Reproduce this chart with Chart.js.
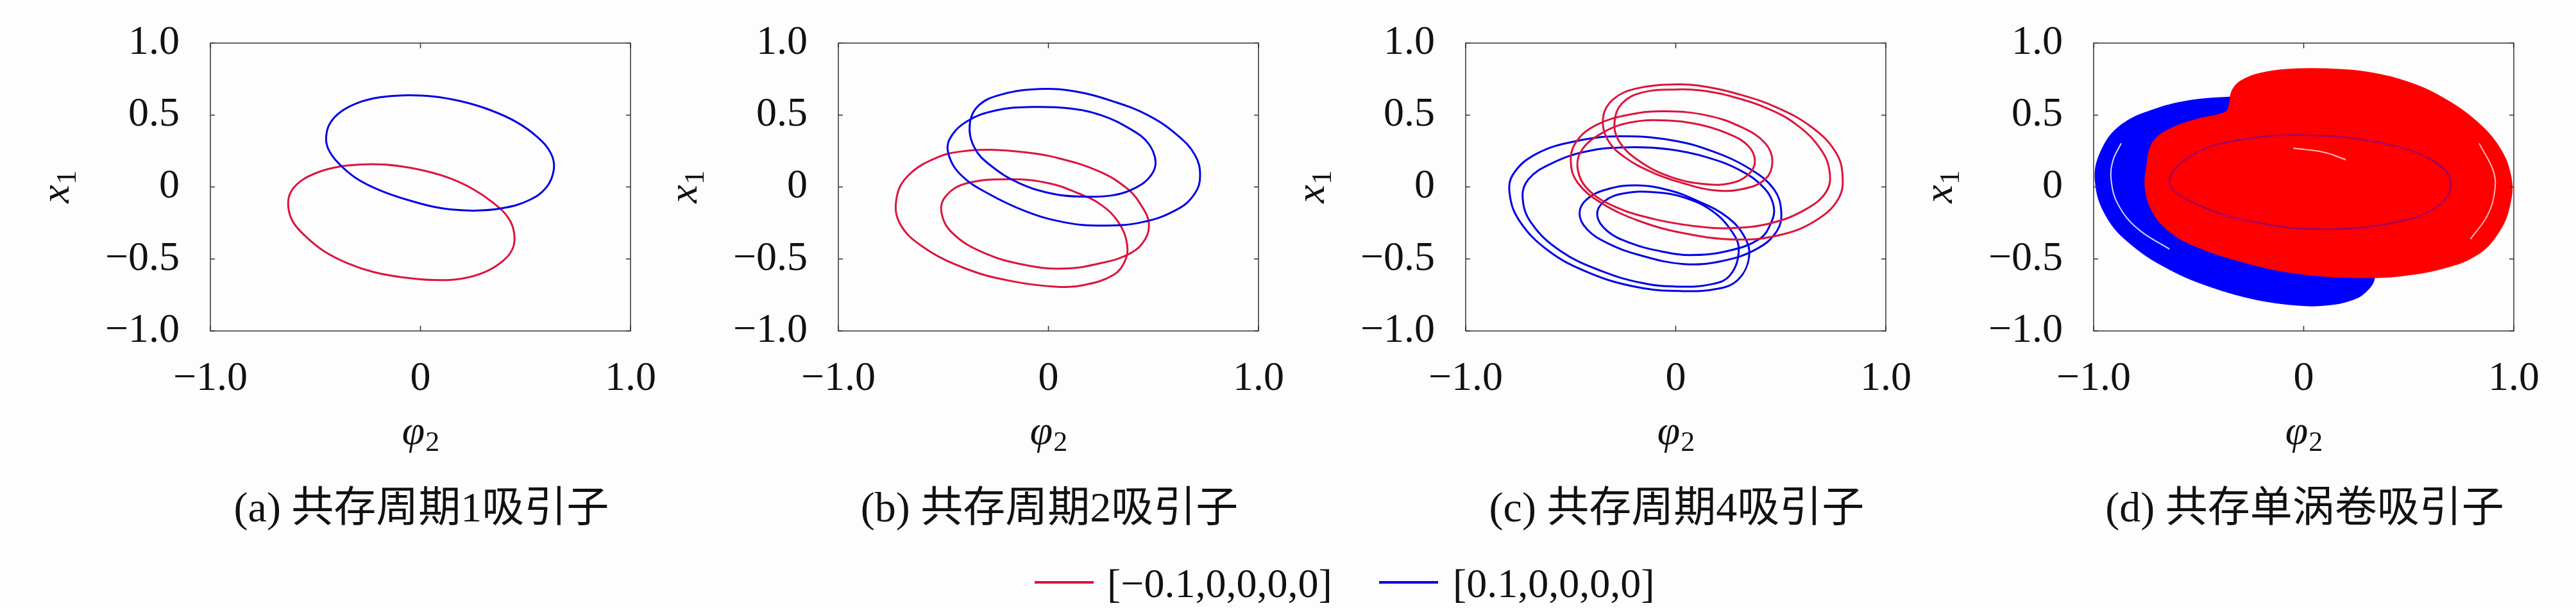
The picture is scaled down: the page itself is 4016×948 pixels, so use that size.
<!DOCTYPE html>
<html>
<head>
<meta charset="utf-8">
<script src="https://cdn.jsdelivr.net/npm/chart.js@4.4.1/dist/chart.umd.min.js"></script>
<style>
  body { margin: 0; background: #fdfdfd; }
  #fig { position: relative; width: 4016px; height: 948px; overflow: hidden; background: #fdfdfd; }
  #fig canvas { position: absolute; top: 0; }
  .cap { position: absolute; top: 758px; width: 1000px; text-align: center; white-space: nowrap;
         font: 66px/66px "Liberation Serif", "Noto Sans CJK SC", serif; color: #111; }
  .leg { position: absolute; top: 877px; white-space: nowrap; font: 64px/66px "Liberation Serif", serif; color: #111; }
  .sw { position: absolute; top: 906px; height: 4px; }
</style>
</head>
<body>
<div id="fig"></div>
<script>
// axis ticks
const xTicks = [-1, 0, 1];
const xTickLabels = ['\u22121.0', '0', '1.0'];
const yTicks = [-1, -0.5, 0, 0.5, 1];
const yTickLabels = ['\u22121.0', '\u22120.5', '0', '0.5', '1.0'];

const captions = ['(a) 共存周期1吸引子', '(b) 共存周期2吸引子', '(c) 共存周期4吸引子', '(d) 共存单涡卷吸引子'];
const legendLabels = ['[\u22120.1,0,0,0,0]', '[0.1,0,0,0,0]'];

// (a) period 1, [phi2, x1] pairs
const aBlue = [[-0.083,0.637],[0.056,0.630],[0.195,0.595],[0.335,0.533],[0.460,0.449],[0.558,0.345],[0.621,0.234],[0.635,0.123],[0.600,-0.001],[0.516,-0.092],[0.391,-0.147],[0.252,-0.164],[0.098,-0.147],[-0.055,-0.092],[-0.194,-0.022],[-0.306,0.061],[-0.390,0.165],[-0.438,0.262],[-0.449,0.345],[-0.431,0.442],[-0.376,0.526],[-0.292,0.588],[-0.195,0.623]];
const aRed = [[-0.250,0.158],[-0.111,0.148],[0.029,0.110],[0.140,0.061],[0.251,-0.015],[0.348,-0.112],[0.419,-0.216],[0.446,-0.320],[0.440,-0.424],[0.391,-0.515],[0.307,-0.591],[0.196,-0.637],[0.056,-0.646],[-0.083,-0.628],[-0.222,-0.591],[-0.348,-0.529],[-0.460,-0.445],[-0.543,-0.348],[-0.606,-0.244],[-0.629,-0.140],[-0.620,-0.043],[-0.571,0.040],[-0.487,0.103],[-0.376,0.144]];

// (b) period 2
const bBlue = [[-0.040,0.681],[-0.221,0.644],[-0.332,0.567],[-0.374,0.442],[-0.353,0.276],[-0.276,0.151],[-0.137,0.026],[0.030,-0.050],[0.169,-0.067],[0.308,-0.057],[0.420,-0.001],[0.489,0.082],[0.510,0.179],[0.475,0.304],[0.392,0.401],[0.253,0.498],[0.100,0.546],[-0.081,0.556],[-0.248,0.533],[-0.388,0.456],[-0.471,0.331],[-0.474,0.220],[-0.415,0.082],[-0.290,-0.043],[-0.109,-0.168],[0.072,-0.244],[0.253,-0.268],[0.447,-0.244],[0.615,-0.154],[0.698,-0.043],[0.722,0.082],[0.698,0.221],[0.615,0.359],[0.475,0.498],[0.308,0.595],[0.127,0.664]];
const bRed = [[-0.276,0.259],[-0.109,0.241],[0.030,0.207],[0.239,0.110],[0.378,-0.015],[0.447,-0.140],[0.478,-0.251],[0.461,-0.362],[0.392,-0.459],[0.253,-0.528],[0.072,-0.567],[-0.109,-0.542],[-0.304,-0.459],[-0.457,-0.320],[-0.510,-0.168],[-0.485,-0.057],[-0.388,0.026],[-0.179,0.054],[0.002,0.026],[0.141,-0.043],[0.253,-0.126],[0.336,-0.251],[0.375,-0.404],[0.364,-0.515],[0.308,-0.612],[0.169,-0.681],[0.030,-0.692],[-0.179,-0.653],[-0.388,-0.570],[-0.596,-0.417],[-0.708,-0.251],[-0.722,-0.071],[-0.666,0.082],[-0.527,0.207],[-0.400,0.250]];

// (c) period 4, two double loops per colour
const cRed1 = [[0.008,0.713],[-0.186,0.685],[-0.298,0.609],[-0.346,0.484],[-0.325,0.331],[-0.242,0.206],[-0.103,0.096],[0.036,0.026],[0.175,-0.022],[0.314,-0.015],[0.426,0.054],[0.460,0.179],[0.426,0.304],[0.314,0.415],[0.147,0.498],[-0.047,0.526],[-0.214,0.505],[-0.381,0.429],[-0.478,0.304],[-0.499,0.165],[-0.465,0.026],[-0.353,-0.112],[-0.172,-0.237],[0.036,-0.320],[0.287,-0.365],[0.495,-0.334],[0.662,-0.237],[0.773,-0.085],[0.794,0.082],[0.759,0.248],[0.648,0.415],[0.481,0.553],[0.287,0.650],[0.134,0.699]];
const cRed2 = [[0.008,0.678],[-0.159,0.657],[-0.256,0.581],[-0.291,0.457],[-0.270,0.318],[-0.172,0.179],[-0.019,0.068],[0.147,0.019],[0.259,0.026],[0.342,0.082],[0.377,0.179],[0.342,0.290],[0.245,0.373],[0.106,0.436],[-0.047,0.463],[-0.214,0.449],[-0.353,0.373],[-0.451,0.248],[-0.465,0.110],[-0.409,-0.029],[-0.284,-0.140],[-0.103,-0.223],[0.092,-0.272],[0.259,-0.286],[0.453,-0.251],[0.620,-0.154],[0.718,-0.029],[0.732,0.110],[0.690,0.262],[0.579,0.429],[0.426,0.553],[0.245,0.637],[0.120,0.671]];
const cBlue1 = [[0.022,-0.723],[0.203,-0.706],[0.300,-0.639],[0.349,-0.487],[0.328,-0.348],[0.245,-0.209],[0.106,-0.098],[-0.033,-0.022],[-0.186,0.012],[-0.325,-0.015],[-0.423,-0.085],[-0.458,-0.182],[-0.423,-0.293],[-0.325,-0.390],[-0.172,-0.473],[0.036,-0.535],[0.217,-0.515],[0.384,-0.431],[0.481,-0.307],[0.502,-0.168],[0.467,-0.015],[0.356,0.123],[0.175,0.248],[-0.019,0.325],[-0.270,0.352],[-0.478,0.318],[-0.659,0.234],[-0.771,0.096],[-0.791,-0.043],[-0.743,-0.237],[-0.604,-0.445],[-0.409,-0.598],[-0.186,-0.695]];
const cBlue2 = [[0.008,-0.692],[0.175,-0.674],[0.259,-0.612],[0.300,-0.445],[0.272,-0.320],[0.175,-0.168],[0.036,-0.071],[-0.103,-0.036],[-0.242,-0.043],[-0.339,-0.098],[-0.374,-0.196],[-0.325,-0.307],[-0.214,-0.390],[-0.075,-0.445],[0.064,-0.473],[0.245,-0.445],[0.398,-0.362],[0.453,-0.251],[0.467,-0.140],[0.426,-0.015],[0.314,0.110],[0.147,0.207],[-0.033,0.262],[-0.228,0.276],[-0.423,0.248],[-0.590,0.165],[-0.701,0.054],[-0.729,-0.071],[-0.687,-0.251],[-0.548,-0.445],[-0.353,-0.584],[-0.159,-0.667]];

// (d) single-scroll attractors: outer boundaries and a few visible inner strands
const dBlue = [[-0.991,0.040],[-0.964,0.248],[-0.869,0.429],[-0.707,0.540],[-0.531,0.602],[-0.355,0.623],[-0.098,0.623],[0.240,0.526],[0.375,0.248],[0.375,-0.168],[0.335,-0.639],[0.307,-0.709],[0.240,-0.778],[0.105,-0.820],[-0.030,-0.820],[-0.233,-0.778],[-0.436,-0.695],[-0.639,-0.570],[-0.815,-0.404],[-0.936,-0.209]];
const dRed = [[-0.071,0.817],[-0.206,0.789],[-0.301,0.734],[-0.342,0.664],[-0.352,0.580],[-0.370,0.520],[-0.504,0.471],[-0.639,0.401],[-0.720,0.304],[-0.747,0.137],[-0.754,-0.001],[-0.720,-0.168],[-0.639,-0.307],[-0.504,-0.417],[-0.301,-0.515],[-0.098,-0.584],[0.105,-0.619],[0.307,-0.628],[0.443,-0.619],[0.646,-0.570],[0.821,-0.473],[0.930,-0.307],[0.984,-0.098],[0.984,0.082],[0.930,0.276],[0.821,0.456],[0.673,0.609],[0.511,0.720],[0.307,0.796],[0.105,0.820]];
const dBlueStripe = [[-0.869,0.304],[-0.909,0.179],[-0.916,0.040],[-0.882,-0.126],[-0.788,-0.293],[-0.639,-0.431]];
const dRedStripe = [[0.835,0.304],[0.903,0.110],[0.909,-0.029],[0.875,-0.196],[0.794,-0.362]];
const dRing = [[-0.639,0.026],[-0.531,0.221],[-0.288,0.331],[0.037,0.359],[0.375,0.304],[0.619,0.179],[0.700,0.026],[0.632,-0.140],[0.416,-0.251],[0.105,-0.293],[-0.206,-0.251],[-0.477,-0.140]];
const dStreak = [[-0.050,0.270],[0.100,0.240],[0.200,0.190]];

const RED = '#dc143c';
const BLUE = '#0000e6';
const panelLeft = [0, 979, 1957, 2936];

function pts(list) {
  return list.map(p => ({ x: p[0], y: p[1] }));
}
function lineSet(list, color, order, width, closed = true) {
  return { data: pts(list), closed: closed, showLine: true, borderColor: color, borderWidth: width || 3,
           pointRadius: 0, tension: 0.4, fill: false, order: order };
}
function areaSet(list, color, order) {
  return { data: pts(list), closed: true, showLine: true, borderColor: color, backgroundColor: color, borderWidth: 2,
           pointRadius: 0, tension: 0.4, fill: 'shape', order: order };
}

const panels = [
  [lineSet(aBlue, BLUE, 0), lineSet(aRed, RED, 1)],
  [lineSet(bBlue, BLUE, 0), lineSet(bRed, RED, 1)],
  [lineSet(cRed1, RED, 0), lineSet(cRed2, RED, 0), lineSet(cBlue1, BLUE, 1), lineSet(cBlue2, BLUE, 1)],
  [lineSet(dBlueStripe, 'rgba(255,255,255,0.85)', 0, 2, false),
   lineSet(dRedStripe, 'rgba(255,225,225,0.8)', 0, 2, false),
   lineSet(dRing, 'rgba(70,0,190,0.5)', 0, 2.5),
   lineSet(dStreak, 'rgba(255,235,235,0.8)', 0, 2, false),
   areaSet(dRed, '#ff0000', 1), areaSet(dBlue, '#0000ff', 2)]
];

// orbits are closed curves: let the line element join the last point back to the first smoothly
// (same flags the radar controller sets on its line)
const closeLoops = {
  id: 'closeLoops',
  afterDatasetUpdate(chart, args) {
    const ds = chart.data.datasets[args.index];
    const line = args.meta.dataset;
    if (ds.closed && line) {
      line._loop = true;
      line._fullLoop = true;
      line._pointsUpdated = false;
      line._segments = undefined;
      line._path = undefined;
    }
  }
};

// frame with inward ticks, plus the two axis titles with subscripts
const framePlugin = {
  id: 'frame',
  afterDatasetsDraw(chart) {
    const { ctx, chartArea: a, scales: { x, y } } = chart;
    ctx.save();
    ctx.strokeStyle = '#333';
    ctx.lineWidth = 1.5;
    ctx.strokeRect(a.left, a.top, a.right - a.left, a.bottom - a.top);
    ctx.beginPath();
    xTicks.forEach(v => {
      const px = x.getPixelForValue(v);
      ctx.moveTo(px, a.bottom); ctx.lineTo(px, a.bottom - 8);
      ctx.moveTo(px, a.top); ctx.lineTo(px, a.top + 8);
    });
    yTicks.forEach(v => {
      const py = y.getPixelForValue(v);
      ctx.moveTo(a.left, py); ctx.lineTo(a.left + 7, py);
      ctx.moveTo(a.right, py); ctx.lineTo(a.right - 7, py);
    });
    ctx.stroke();
    ctx.restore();
  },
  afterDraw(chart) {
    const { ctx, chartArea: a } = chart;
    const main = 'italic 64px "Liberation Serif"';
    const sub = '44px "Liberation Serif"';
    const drawSub = (m, s, cx, cy, rot) => {
      ctx.save();
      ctx.translate(cx, cy);
      ctx.rotate(rot);
      ctx.fillStyle = '#111';
      ctx.textBaseline = 'alphabetic';
      ctx.font = main; const w1 = ctx.measureText(m).width;
      ctx.font = sub; const w2 = ctx.measureText(s).width;
      const x0 = -(w1 + w2) / 2;
      ctx.font = main; ctx.fillText(m, x0, 0);
      ctx.font = sub; ctx.fillText(s, x0 + w1 + 1, 11);
      ctx.restore();
    };
    drawSub('x', '1', a.left - 221, (a.top + a.bottom) / 2, -Math.PI / 2);
    drawSub('\u03c6', '2', (a.left + a.right) / 2, a.bottom + 176, 0);
  }
};

const tickFont = { family: 'Liberation Serif', size: 64 };
const fig = document.getElementById('fig');

panels.forEach((datasets, i) => {
  const cv = document.createElement('canvas');
  cv.width = 1060; cv.height = 948;
  cv.style.left = panelLeft[i] + 'px';
  fig.appendChild(cv);

  new Chart(cv.getContext('2d'), {
    type: 'scatter',
    data: { datasets: datasets },
    options: {
      responsive: false,
      animation: false,
      events: [],
      layout: { padding: { left: 108, right: 73, top: 20, bottom: 312 } },
      plugins: { legend: { display: false }, tooltip: { enabled: false } },
      scales: {
        x: {
          type: 'linear', min: -1, max: 1,
          afterBuildTicks: s => { s.ticks = xTicks.map(v => ({ value: v })); },
          afterFit: s => { s.height = 120; },
          grid: { display: false, drawTicks: false },
          border: { display: false },
          ticks: { padding: 37, color: '#111', maxRotation: 0, autoSkip: false,
                   font: Object.assign({ lineHeight: 1.2 }, tickFont),
                   callback: (v, idx) => xTickLabels[idx] }
        },
        y: {
          type: 'linear', min: -1, max: 1,
          afterBuildTicks: s => { s.ticks = yTicks.map(v => ({ value: v })); },
          afterFit: s => { s.width = 220; },
          grid: { display: false, drawTicks: false },
          border: { display: false },
          ticks: { padding: 48, color: '#111', autoSkip: false,
                   font: Object.assign({ lineHeight: 0.6 }, tickFont),
                   callback: (v, idx) => yTickLabels[idx] }
        }
      }
    },
    plugins: [closeLoops, framePlugin]
  });

  const cap = document.createElement('div');
  cap.className = 'cap';
  cap.style.left = (panelLeft[i] + 657 - 500) + 'px';
  cap.textContent = captions[i];
  fig.appendChild(cap);
});

// legend below the panels
[[1613, 1726, RED], [2150, 2265, BLUE]].forEach((l, i) => {
  const sw = document.createElement('div');
  sw.className = 'sw';
  sw.style.left = l[0] + 'px';
  sw.style.width = '92px';
  sw.style.background = l[2];
  fig.appendChild(sw);
  const t = document.createElement('div');
  t.className = 'leg';
  t.style.left = l[1] + 'px';
  t.textContent = legendLabels[i];
  fig.appendChild(t);
});
</script>
</body>
</html>
